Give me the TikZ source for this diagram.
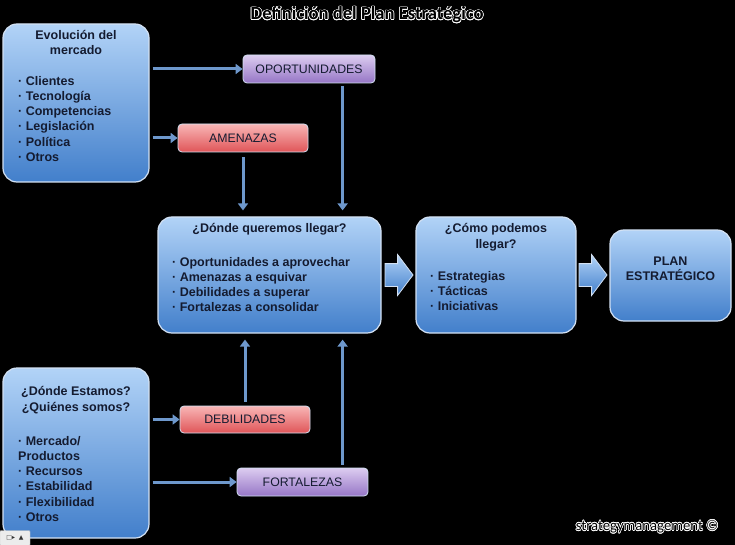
\documentclass[tikz,border=0pt]{standalone}
\usepackage{fontspec}
\setmainfont{Liberation Sans}
\newfontfamily\ttlfont{Carlito}
\newfontfamily\symfont{DejaVu Sans}
\usepackage{contour}
\usetikzlibrary{calc,positioning,arrows.meta,shapes.arrows}

\definecolor{bxtop}{HTML}{B2D3F7}
\definecolor{bxbot}{HTML}{427FCB}
\definecolor{bxline}{HTML}{D3E1F3}
\definecolor{pptop}{HTML}{DCCCF0}
\definecolor{ppbot}{HTML}{9676C6}
\definecolor{rdtop}{HTML}{F8B6B6}
\definecolor{rdbot}{HTML}{E05558}
\definecolor{arr}{HTML}{6E98CC}
\definecolor{txt}{HTML}{141B30}
\contourlength{0.6pt}

\begin{document}
\begin{tikzpicture}[x=1pt,y=-1pt]
\tikzstyle{bigbox}=[draw=bxline, line width=1.2pt, rounded corners=14pt, top color=bxtop, bottom color=bxbot]
\tikzstyle{tagbox}=[draw=bxline, line width=0.8pt, rounded corners=4pt, minimum height=28pt, text=txt, font=\fontsize{12.3}{15}\selectfont]
\tikzstyle{purp}=[tagbox, top color=pptop, bottom color=ppbot]
\tikzstyle{redd}=[tagbox, top color=rdtop, bottom color=rdbot]
\tikzstyle{hdr}=[anchor=north, inner sep=0, align=center, text=txt, font=\bfseries\fontsize{12.5}{15.2}\selectfont]
\tikzstyle{lst}=[anchor=north west, inner sep=0, align=left, text=txt, font=\bfseries\fontsize{12.5}{15.2}\selectfont]
\tikzstyle{conn}=[draw=arr, line width=3pt, -{Triangle[width=10pt,length=7pt]}]
\tikzstyle{blk}=[single arrow, draw=bxline, line width=0.8pt, top color=bxtop, bottom color=bxbot, minimum height=28pt, inner xsep=0pt, inner ysep=11pt, single arrow head extend=9pt, single arrow tip angle=106]

% background
\fill[black] (0,0) rectangle (735,545);
\useasboundingbox (0,0) rectangle (735,545);

\node[font=\ttlfont\bfseries\fontsize{18.6}{20}\selectfont, text=black] (ttl) at (367,15) {\contour{white}{Definición del Plan Estratégico}};

% market side
\node[bigbox, minimum width=146pt, minimum height=158pt] (evol) at (76,103) {};
\node[hdr] (evolhdr) at (76,30.4) {Evolución del\\mercado};
\node[lst] (evollst) at (18,76) {· Clientes\\· Tecnología\\· Competencias\\· Legislación\\· Política\\· Otros};

\node[purp, minimum width=132pt] (oport) at (309,69) {OPORTUNIDADES};
\node[redd, minimum width=130pt] (amen) at (243,138) {AMENAZAS};

% own side
\node[bigbox, minimum width=146pt, minimum height=170pt] (estam) at (76,453) {};
\node[hdr] (estamhdr) at (76,386.6) {¿Dónde Estamos?\\¿Quiénes somos?};
\node[lst] (estamlst) at (18,436) {· Mercado/\\Productos\\· Recursos\\· Estabilidad\\· Flexibilidad\\· Otros};

\node[redd, minimum width=130pt, minimum height=27pt] (debil) at (245,419.5) {DEBILIDADES};
\node[purp, minimum width=131pt] (fort) at (302.5,482) {FORTALEZAS};

% centre row
\node[bigbox, minimum width=223pt, minimum height=116pt] (donde) at (269.5,275) {};
\node[hdr] (dondehdr) at (donde.center |- 0,223.6) {¿Dónde queremos llegar?};
\node[lst] (dondelst) at (172,257) {· Oportunidades a aprovechar\\· Amenazas a esquivar\\· Debilidades a superar\\· Fortalezas a consolidar};

\node[bigbox, minimum width=160pt, minimum height=116pt] (como) at (496,275) {};
\node[hdr] (comohdr) at (496,223.6) {¿Cómo podemos\\llegar?};
\node[lst] (comolst) at (430,271) {· Estrategias\\· Tácticas\\· Iniciativas};

\node[bigbox, minimum width=121pt, minimum height=91pt] (plan) at (670.5,275.5) {};
\node[hdr] (planhdr) at (670.5,256.6) {PLAN\\ESTRATÉGICO};

\node[blk, right=3pt of donde] (ar1) {};
\node[blk, right=2pt of como] (ar2) {};

% connectors
\coordinate (vt) at ([xshift=-39pt]donde.north east);
\coordinate (vb) at ([xshift=-39pt]donde.south east);
\draw[conn, shorten <=3pt] (evol.east |- oport) -- (oport.west);
\draw[conn, shorten <=3pt] (evol.east |- amen) -- (amen.west);
\draw[conn, shorten <=5pt, shorten >=6pt] (amen.south) -- (amen.south |- donde.north);
\draw[conn, shorten <=3pt, shorten >=6pt] (oport.south -| vt) -- (vt);
\draw[conn, shorten <=3pt] (estam.east |- debil) -- (debil.west);
\draw[conn, shorten <=3pt] (estam.east |- fort) -- (fort.west);
\draw[conn, shorten <=4pt, shorten >=6pt] (debil.north) -- (debil.north |- donde.south);
\draw[conn, shorten <=3pt, shorten >=6pt] (fort.north -| vb) -- (vb);

\node[font=\ttlfont\fontsize{14.7}{16}\selectfont, text=black, anchor=east] (wm) at (722,527) {\contour{white}{strategymanagement ©}};
\node[draw=gray!50, fill=gray!15, rounded corners=1pt, inner sep=1pt, minimum width=30pt, minimum height=15pt, font=\symfont\fontsize{6}{7}\selectfont, text=black!80] (ctl) at (15,538) {□▸\ \ ▲};
\end{tikzpicture}
\end{document}
